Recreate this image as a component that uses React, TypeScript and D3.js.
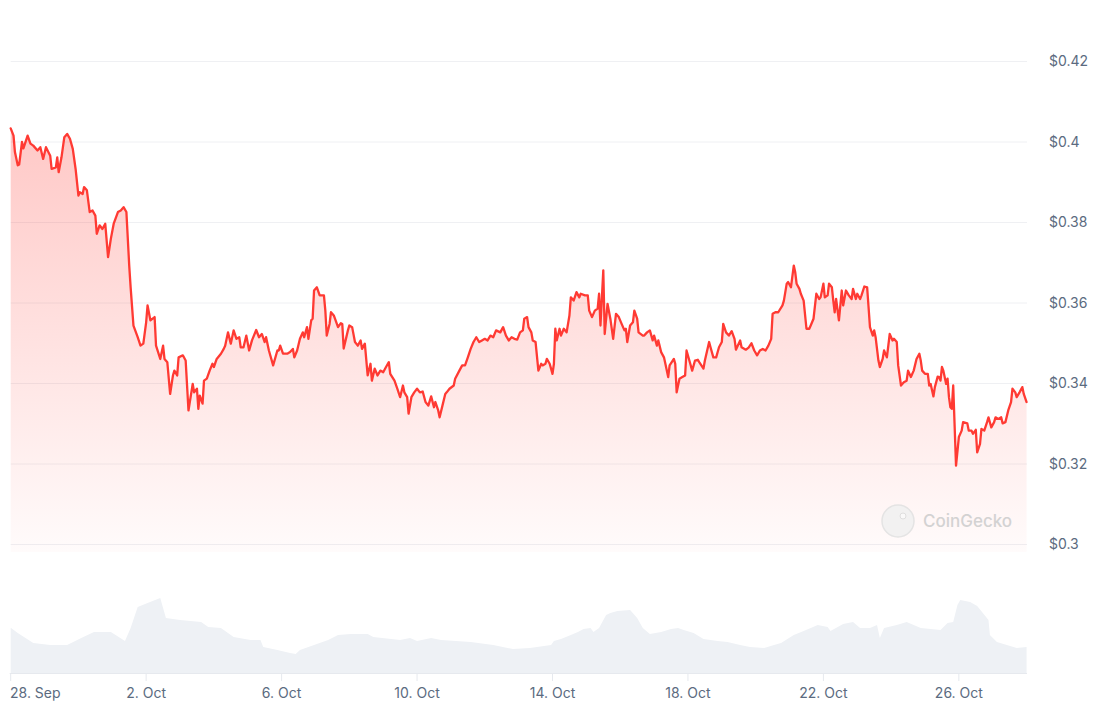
import React from "react";
import * as d3 from "d3";

// 30-day price + volume chart, hourly-ish samples.
const START = Date.UTC(2024, 8, 28); // 28 Sep, 00:00 UTC
const HOUR = 3600 * 1000;
const END_HOURS = 720.3;

// [hours since start, price in USD]
const priceSeries: [number, number][] = [
  [0, 0.4034], [2, 0.4016], [3, 0.3975], [5, 0.3942], [6, 0.3944], [8, 0.4], [9, 0.3984], [12, 0.4016],
  [14, 0.3996], [16, 0.3991], [19, 0.3979], [21, 0.3987], [23, 0.3958], [25, 0.3987], [28, 0.3966], [29, 0.3933],
  [32, 0.3937], [33, 0.3962], [34, 0.3925], [36, 0.3962], [38, 0.4012], [40, 0.402], [42, 0.4008], [44, 0.3983],
  [46, 0.3933], [48, 0.3867], [49, 0.3875], [51, 0.3871], [52, 0.3888], [54, 0.388], [56, 0.3826], [58, 0.383],
  [60, 0.3817], [61, 0.3772], [63, 0.3793], [65, 0.3784], [67, 0.3797], [69, 0.3714], [71, 0.376], [73, 0.3797],
  [76, 0.3826], [78, 0.383], [80, 0.3838], [82, 0.3826], [84, 0.3693], [85, 0.3639], [87, 0.3544], [90, 0.3515],
  [92, 0.3494], [94, 0.3499], [96, 0.3552], [97, 0.3594], [99, 0.3557], [102, 0.3565], [103, 0.3494], [106, 0.3461],
  [108, 0.3494], [109, 0.3461], [111, 0.3453], [113, 0.3374], [115, 0.342], [116, 0.3432],
  [118, 0.342], [119, 0.3465], [122, 0.347], [124, 0.3457], [126, 0.3333], [129, 0.3399], [130, 0.3378], [132, 0.3387],
  [133, 0.3337], [134, 0.337], [136, 0.335], [137, 0.3407], [139, 0.3412], [141, 0.3432], [143, 0.3449], [144, 0.3441],
  [146, 0.3461], [149, 0.3474], [151, 0.3486], [152, 0.3494], [154, 0.3527], [156, 0.3499], [158, 0.3532], [160, 0.3511],
  [162, 0.3515], [163, 0.349], [165, 0.349], [167, 0.3519], [169, 0.3482], [171, 0.3507], [174, 0.3533], [176, 0.3515],
  [178, 0.3523], [180, 0.3503], [181, 0.3515], [183, 0.3482], [186, 0.3445], [189, 0.3482], [190, 0.3482], [191, 0.3494],
  [193, 0.3474], [196, 0.3474], [198, 0.3478], [200, 0.3486], [201, 0.3465], [203, 0.3482], [205, 0.3511], [207, 0.3527],
  [208, 0.3515], [210, 0.354], [211, 0.3511], [213, 0.3557], [214, 0.3561], [215, 0.3631], [217, 0.3639], [219, 0.3619],
  [222, 0.3619], [223, 0.3581], [224, 0.3519], [226, 0.3548], [227, 0.3577], [229, 0.3569], [232, 0.354], [234, 0.355],
  [235, 0.3548], [236, 0.3487], [239, 0.3532], [240, 0.3544], [242, 0.354], [244, 0.3503], [246, 0.3494], [248, 0.3507],
  [249, 0.3486], [251, 0.3499], [253, 0.342], [255, 0.3449], [256, 0.3407], [258, 0.3437], [260, 0.342], [262, 0.3432],
  [264, 0.3428], [266, 0.3441], [268, 0.3453], [269, 0.3424], [272, 0.3407], [274, 0.3387], [276, 0.3366], [278, 0.3395],
  [279, 0.3378], [281, 0.3366], [282, 0.3325], [284, 0.3366], [286, 0.3378], [288, 0.3387], [290, 0.3378], [292, 0.338],
  [294, 0.3354], [296, 0.3345], [298, 0.3368], [300, 0.3341], [301, 0.3354], [303, 0.3333], [304, 0.3316], [306, 0.3345],
  [308, 0.3374], [309, 0.3378], [311, 0.3387], [314, 0.3395], [315, 0.3412], [318, 0.3432], [320, 0.3445], [322, 0.3445],
  [324, 0.3465], [326, 0.3486], [328, 0.3503], [330, 0.3515], [332, 0.3503], [334, 0.3507], [336, 0.3511], [338, 0.3507],
  [340, 0.3519], [342, 0.3515], [344, 0.3532], [347, 0.3527], [349, 0.354], [351, 0.3519], [353, 0.3507], [355, 0.3515],
  [357, 0.3511],
  [359, 0.3509], [361, 0.3527], [363, 0.3532], [364, 0.3561], [366, 0.3565], [367, 0.354], [369, 0.3527], [370, 0.3507],
  [372, 0.3503], [374, 0.3432], [376, 0.3449], [377, 0.3445], [379, 0.3449], [380, 0.3461], [382, 0.3449], [384, 0.3424],
  [385, 0.3449], [386, 0.3536], [387, 0.3507], [389, 0.3536], [390, 0.3519], [392, 0.3536], [394, 0.3527], [396, 0.3569],
  [397, 0.3614], [399, 0.3606], [401, 0.3627], [403, 0.3614], [404, 0.3623], [407, 0.3619], [409, 0.3619], [410, 0.3581],
  [412, 0.3565], [414, 0.3581], [416, 0.3586], [417, 0.3623], [418, 0.3544], [420, 0.3681], [421, 0.3523], [423, 0.3598],
  [425, 0.3561], [427, 0.3511], [429, 0.3573], [431, 0.3565], [433, 0.3548], [435, 0.3532], [436, 0.3536], [437, 0.3503],
  [439, 0.3544], [441, 0.3552], [442, 0.3581], [444, 0.3561], [445, 0.3527], [448, 0.3519], [449, 0.3519], [451, 0.3527],
  [453, 0.3532], [455, 0.3507], [456, 0.3519], [458, 0.3494], [459, 0.3507], [461, 0.3478], [463, 0.3465], [464, 0.3449],
  [466, 0.3416], [467, 0.3445], [470, 0.3461], [471, 0.3449], [472, 0.3378], [474, 0.3412], [476, 0.3416], [478, 0.342],
  [479, 0.3482], [481, 0.3457], [483, 0.3432], [485, 0.3457], [487, 0.3459], [488, 0.3453], [491, 0.3437], [492, 0.3457],
  [495, 0.3503], [496, 0.349], [498, 0.3465], [500, 0.3465], [502, 0.349], [504, 0.3503], [505, 0.3548], [507, 0.3527],
  [509, 0.3519], [511, 0.353], [513, 0.3511], [514, 0.3484], [517, 0.3507], [518, 0.349], [521, 0.3484], [523, 0.3489],
  [525, 0.35], [527, 0.3482], [529, 0.347], [531, 0.3482], [533, 0.3486], [535, 0.3482], [537, 0.3494], [539, 0.3511],
  [540, 0.3573], [542, 0.3577], [544, 0.3577], [547, 0.3594], [548, 0.3606], [550, 0.3648], [551, 0.3652], [553, 0.3639],
  [555, 0.3693], [556, 0.3677], [557, 0.3648], [559, 0.3635], [560, 0.3623], [562, 0.3606], [564, 0.3536], [566, 0.3536],
  [567, 0.3544], [569, 0.3561], [571, 0.3623], [573, 0.361], [574, 0.3614], [576, 0.3648], [577, 0.3614], [579, 0.3619],
  [580, 0.3648], [582, 0.3639], [583, 0.3606], [584, 0.3577], [585, 0.361], [587, 0.3557], [589, 0.3631], [590, 0.3594],
  [592, 0.3631], [594, 0.3619], [596, 0.361],
  [597, 0.3635], [599, 0.361], [600, 0.3623], [602, 0.361], [603, 0.3619], [605, 0.3641], [607, 0.3639], [608, 0.359],
  [609, 0.354], [611, 0.3519], [612, 0.3532], [613, 0.3515], [615, 0.3457], [616, 0.3441], [618, 0.3461], [619, 0.3482],
  [621, 0.3465], [623, 0.3523], [625, 0.3507], [626, 0.3511], [628, 0.3503], [629, 0.3445], [631, 0.3395], [633, 0.3403],
  [635, 0.3407], [636, 0.3432], [638, 0.3416], [640, 0.3432], [642, 0.3461], [644, 0.3474], [645, 0.3457], [646, 0.3432],
  [648, 0.3424], [650, 0.3424], [651, 0.3395], [652, 0.3399], [654, 0.3368], [655, 0.3391], [657, 0.3417], [658, 0.3416],
  [659, 0.3407], [660, 0.3441], [661, 0.3432], [663, 0.3399], [664, 0.3412], [665, 0.3366], [666, 0.3341], [667, 0.3337],
  [668, 0.3395], [670, 0.3196], [672, 0.3267], [674, 0.3283], [675, 0.3304], [678, 0.3301], [679, 0.3283], [681, 0.3283],
  [682, 0.3275], [684, 0.3285], [685, 0.3229], [687, 0.325], [688, 0.3287], [690, 0.3283], [692, 0.3304], [693, 0.3316],
  [695, 0.3291], [697, 0.3304], [698, 0.3316], [700, 0.3312], [702, 0.3316], [703, 0.3301], [705, 0.3304], [707, 0.3333],
  [709, 0.3354], [710, 0.3387], [712, 0.3378], [713, 0.3366], [715, 0.3378], [717, 0.3391], [718, 0.3374], [720, 0.3354],
];

// [hours since start, volume in $M]
const volumeSeries: [number, number][] = [
  [0, 18.1], [5, 16.0], [16, 12.0], [28, 11.2], [40, 11.2], [50, 14.0], [59, 16.4], [71, 16.4], [81, 12.8], [85, 18.0],
  [90, 26.4], [97, 28.0], [106, 30.0], [110, 22.0], [120, 21.2], [135, 20.4], [140, 18.4], [149, 18.0], [158, 14.4],
  [170, 13.2], [177, 13.2], [179, 10.4], [189, 9.2], [198, 8.0], [202, 7.6], [205, 9.2], [215, 11.2], [225, 13.2],
  [232, 15.2], [241, 15.6], [253, 15.6], [257, 14.4], [276, 13.2], [283, 14.0], [288, 12.8], [298, 14.0], [305, 13.2],
  [326, 12.4], [342, 11.2], [356, 9.6], [368, 10.0], [383, 11.2], [385, 12.8], [390, 13.6], [397, 15.2], [402, 16.4],
  [406, 17.6], [411, 18.0], [413, 16.4], [417, 18.0], [422, 23.2], [425, 24.0], [430, 24.8], [439, 25.2], [444, 22.0],
  [448, 18.0], [453, 15.6], [461, 16.4], [468, 17.6], [473, 18.0], [477, 17.2], [484, 16.0], [491, 13.6], [501, 12.8],
  [508, 12.4], [517, 11.2], [524, 10.4], [534, 10.0], [541, 11.2], [546, 12.0], [555, 15.2], [562, 16.8], [572, 19.2],
  [579, 18.4], [581, 16.8], [590, 19.6], [597, 20.4], [602, 18.0], [609, 18.0], [614, 19.2], [616, 14.0], [619, 18.0],
  [628, 19.2], [635, 20.4], [645, 18.0], [652, 17.6], [659, 17.2], [664, 20.0], [668, 20.4], [671, 27.2], [673, 29.2],
  [680, 28.4], [685, 26.8], [689, 24.0], [693, 21.2], [694, 15.2], [699, 12.4], [706, 11.2], [713, 10.0], [720, 10.4],
];

const priceTicks = [0.3, 0.32, 0.34, 0.36, 0.38, 0.4, 0.42];
const dayTicks = [0, 4, 8, 12, 16, 20, 24, 28];

const W = 1105;
const H = 709;
const FONT = "Inter, 'Noto Sans', sans-serif";
const RED = "#ff3a33";

const t = (h: number) => new Date(START + h * HOUR);
const fmtDay = d3.utcFormat("%-d. %b");
const fmtPrice = (v: number) => `$${+v.toFixed(2)}`;

export default function App() {
  const x = d3.scaleUtc().domain([t(0), t(END_HOURS)]).range([10.7, 1027]);
  const y = d3.scaleLinear().domain([0.3, 0.42]).range([544.5, 61.5]);
  const yVol = d3.scaleLinear().domain([0, 32]).range([673, 593]);
  const fillBottom = 552;

  const line = d3
    .line<[number, number]>()
    .x((d) => x(t(d[0])))
    .y((d) => y(d[1]));

  const area = d3
    .area<[number, number]>()
    .x((d) => x(t(d[0])))
    .y0(fillBottom)
    .y1((d) => y(d[1]));

  const volArea = d3
    .area<[number, number]>()
    .x((d) => x(t(d[0])))
    .y0(yVol(0))
    .y1((d) => yVol(d[1]));

  const [x0, x1] = x.range();

  return (
    <>
      <style>{`body{margin:0}`}</style>
      <svg width={W} height={H} viewBox={`0 0 ${W} ${H}`} style={{ display: "block", background: "#fff" }}>
        <defs>
          <linearGradient id="priceFill" gradientUnits="userSpaceOnUse" x1={0} x2={0} y1={y(0.404)} y2={fillBottom}>
            <stop offset="0%" stopColor={RED} stopOpacity={0.28} />
            <stop offset="100%" stopColor={RED} stopOpacity={0.02} />
          </linearGradient>
        </defs>

        {/* grid */}
        {priceTicks.map((v) => (
          <line key={v} x1={x0} x2={x1} y1={y(v)} y2={y(v)} stroke="#eff0f3" strokeWidth={1} />
        ))}

        {/* volume */}
        <path d={volArea(volumeSeries) ?? ""} fill="#eef1f5" />
        <line x1={x0 - 1} x2={x1} y1={yVol(0) + 0.5} y2={yVol(0) + 0.5} stroke="#e6e9ee" />
        {dayTicks.map((d) => (
          <line
            key={d}
            x1={x(t(d * 24))}
            x2={x(t(d * 24))}
            y1={yVol(0)}
            y2={yVol(0) + 8}
            stroke="#e6e9ee"
          />
        ))}

        {/* price */}
        <path d={area(priceSeries) ?? ""} fill="url(#priceFill)" />
        <path
          d={line(priceSeries) ?? ""}
          fill="none"
          stroke={RED}
          strokeWidth={2.3}
          strokeLinejoin="round"
          strokeLinecap="round"
        />

        {/* y labels */}
        {priceTicks.map((v) => (
          <text key={v} x={1049} y={y(v)} dy="0.35em" fontFamily={FONT} fontSize={14} fill="#5b6b80">
            {fmtPrice(v)}
          </text>
        ))}

        {/* x labels */}
        {dayTicks.map((d, i) => (
          <text
            key={d}
            x={i === 0 ? 10 : x(t(d * 24))}
            y={698}
            textAnchor={i === 0 ? "start" : "middle"}
            fontFamily={FONT}
            fontSize={14}
            fill="#5b6b80"
          >
            {fmtDay(t(d * 24))}
          </text>
        ))}

        {/* watermark */}
        <g opacity={0.9}>
          <circle cx={898} cy={521} r={16} fill="#f1f1f1" stroke="#e2e2e2" strokeWidth={1.5} />
          <circle cx={903} cy={516} r={3} fill="#fafafa" stroke="#dcdcdc" />
          <text x={923} y={527} fontFamily={FONT} fontSize={17} fontWeight={500} fill="#cfcfcf">
            CoinGecko
          </text>
        </g>
      </svg>
    </>
  );
}
